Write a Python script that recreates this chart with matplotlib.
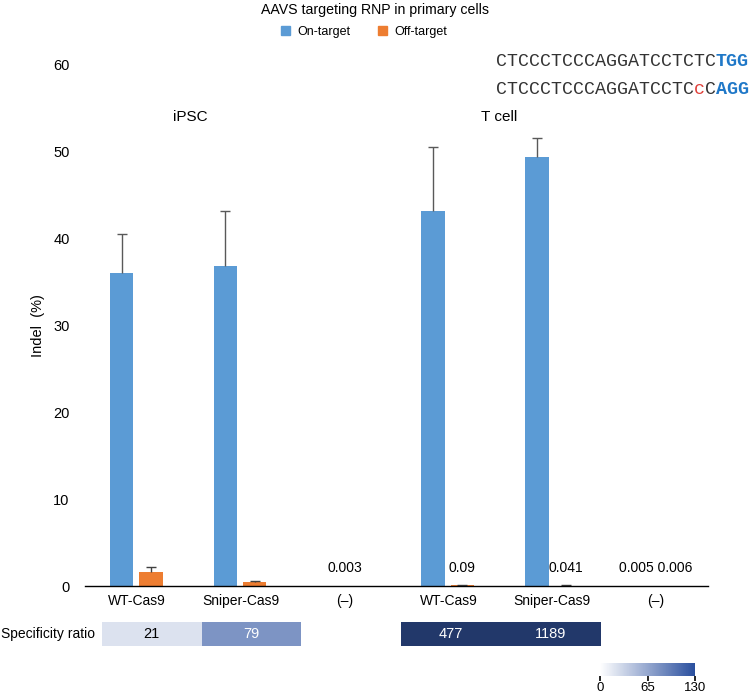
import matplotlib
matplotlib.use("Agg")
import matplotlib.pyplot as plt
import numpy as np
from matplotlib.colors import LinearSegmentedColormap, Normalize
from matplotlib.cm import ScalarMappable
from matplotlib.patches import Patch

plt.rcParams["font.family"] = ["Liberation Sans", "DejaVu Sans"]

categories = ["WT-Cas9", "Sniper-Cas9", "(–)", "WT-Cas9", "Sniper-Cas9", "(–)"]
on_target = [36.1, 36.8, 0.003, 43.2, 49.4, 0.005]
on_err = [4.4, 6.4, 0.0, 7.3, 2.2, 0.0]
off_target = [1.65, 0.5, 0.0, 0.09, 0.041, 0.006]
off_err = [0.55, 0.08, 0.0, 0.06, 0.05, 0.0]
value_labels = {2: "0.003", 3: "0.09", 4: "0.041", 5: "0.005 0.006"}
groups = ["iPSC", "T cell"]
ratio_values = [21, 79, np.nan, 477, 1189]
ratio_ticks = [0, 65, 130]

blue = "#5b9bd5"
orange = "#ed7d31"
W, H = 751, 697


def upper_errorbar(ax, xs, ys, errs, color):
    xs, ys, errs = np.asarray(xs), np.asarray(ys), np.asarray(errs)
    m = errs > 0
    _, caps, _ = ax.errorbar(xs[m], ys[m], yerr=[np.zeros(m.sum()), errs[m]], fmt="none",
                             ecolor=color, elinewidth=1, capsize=3.5, capthick=1)
    # Excel style: only the "plus" side gets a cap
    caps[0].set_visible(False)


fig = plt.figure(figsize=(W / 100, H / 100), dpi=100)
ax = fig.add_axes([85 / W, 1 - 586 / H, 623 / W, (586 - 65) / H])

x = np.arange(len(categories))
bw = 0.225
ax.bar(x - 0.147, on_target, bw, color=blue, label="On-target")
ax.bar(x + 0.135, off_target, bw, color=orange, label="Off-target")
upper_errorbar(ax, x - 0.147, on_target, on_err, "#595959")
upper_errorbar(ax, x + 0.135, off_target, off_err, "#404040")

for i, txt in value_labels.items():
    xo = 0.135 if i in (3, 4) else 0.0
    ax.text(i + xo, 2.1, txt, ha="center", va="center", fontsize=10)

ax.set_xlim(-0.5, len(categories) - 0.5)
ax.set_ylim(0, 60)
ax.set_yticks(np.arange(0, 61, 10))
ax.set_xticks(x)
ax.set_xticklabels(categories)
ax.tick_params(axis="y", length=0, pad=11, labelsize=10.5)
ax.tick_params(axis="x", length=0, pad=6, labelsize=10)
for s in ["top", "right", "left"]:
    ax.spines[s].set_visible(False)
ax.spines["bottom"].set_linewidth(1)
ax.set_ylabel("Indel  (%)", fontsize=10.5, labelpad=6)

# titles, legend, group labels
fig.text(375 / W, 1 - 10 / H, "AAVS targeting RNP in primary cells", ha="center", va="center", fontsize=10.2)
handles = [Patch(color=blue, label="On-target"), Patch(color=orange, label="Off-target")]
fig.legend(handles=handles, loc="center", bbox_to_anchor=(364 / W, 1 - 32 / H), ncol=2, frameon=False,
           fontsize=9, handlelength=0.7, handleheight=0.7, handletextpad=0.6, columnspacing=2.2)
fig.text(190 / W, 1 - 117 / H, groups[0], ha="center", va="center", fontsize=11)
fig.text(499 / W, 1 - 117 / H, groups[1], ha="center", va="center", fontsize=11)

# sequences (monospace, per-segment colouring)
seq_fs = 13.2
cw = 0.6 * seq_fs * 100 / 72
seq_lines = [
    (61, [("CTCCCTCCCAGGATCCTCTC", "#333333", "normal"), ("TGG", "#1f78c8", "bold")]),
    (89, [("CTCCCTCCCAGGATCCTC", "#333333", "normal"), ("c", "#e0403a", "normal"),
          ("C", "#333333", "normal"), ("AGG", "#1f78c8", "bold")]),
]
for yp, segs in seq_lines:
    xp = 496
    for s, c, wgt in segs:
        fig.text(xp / W, 1 - yp / H, s, ha="left", va="center", fontsize=seq_fs,
                 family="Liberation Mono", color=c, weight=wgt)
        xp += cw * len(s)

# specificity ratio heatmap
cmap = LinearSegmentedColormap.from_list("ratio", ["#ffffff", "#2a4f9e"])
cmap.set_over("#22386a")
cmap.set_bad((1, 1, 1, 0))
norm = Normalize(vmin=0, vmax=130)
hax = fig.add_axes([101.7 / W, 1 - 646 / H, 499 / W, 23.7 / H])
hax.imshow(np.ma.masked_invalid([ratio_values]), cmap=cmap, norm=norm, aspect="auto")
hax.set_axis_off()
for j, v in enumerate(ratio_values):
    if np.isnan(v):
        continue
    hax.text(j, 0, f"{int(v)}", ha="center", va="center", fontsize=10.5,
             color="black" if v < 50 else "white")
fig.text(1 / W, 1 - 634 / H, "Specificity ratio", ha="left", va="center", fontsize=10)

cax = fig.add_axes([600 / W, 1 - 676 / H, 95 / W, 13 / H])
cb = fig.colorbar(ScalarMappable(norm=norm, cmap=cmap), cax=cax, orientation="horizontal")
cb.set_ticks(ratio_ticks)
cb.outline.set_visible(False)
cax.tick_params(length=3.5, width=1.2, labelsize=9.5, pad=1)

fig.savefig("out.png", dpi=100)
